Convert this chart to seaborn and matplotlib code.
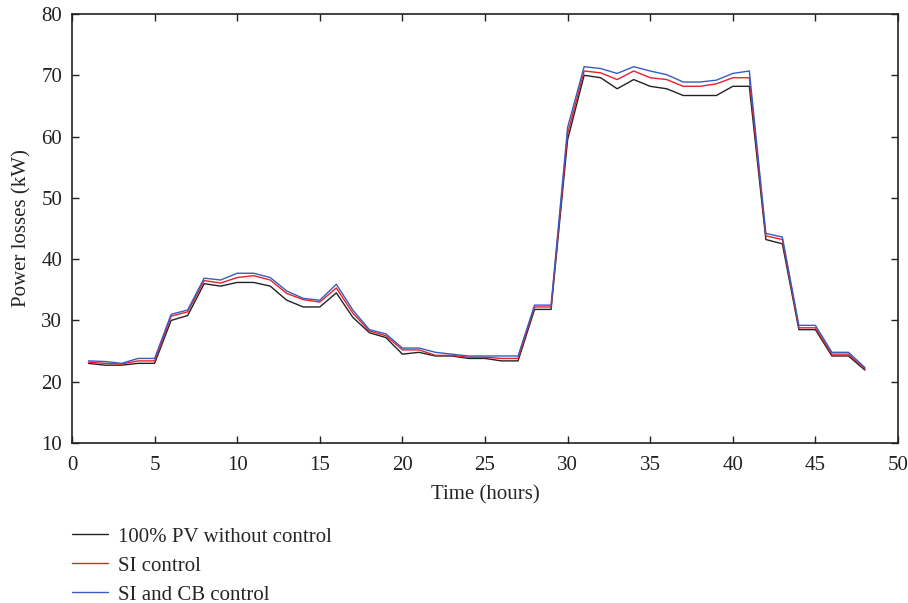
import numpy as np
import pandas as pd
import matplotlib
matplotlib.use("Agg")
import matplotlib.pyplot as plt
import seaborn as sns

# hourly values
hours = list(range(1, 49))
no_control = [23.0, 22.7, 22.7, 23.0, 23.0, 30.0, 30.8, 36.0, 35.6, 36.2, 36.2, 35.6,
              33.3, 32.2, 32.2, 34.5, 30.5, 28.0, 27.2, 24.5, 24.8, 24.2, 24.2, 23.8,
              23.8, 23.4, 23.4, 31.8, 31.8, 59.5, 70.0, 69.6, 67.8, 69.3, 68.2, 67.8,
              66.7, 66.7, 66.7, 68.2, 68.2, 43.2, 42.5, 28.5, 28.5, 24.2, 24.2, 21.9]
si_control = [23.2, 23.0, 22.9, 23.4, 23.4, 30.7, 31.4, 36.5, 36.1, 37.0, 37.3, 36.6,
              34.4, 33.4, 33.0, 35.3, 31.2, 28.3, 27.5, 25.2, 25.2, 24.3, 24.3, 24.0,
              24.0, 23.8, 23.8, 32.2, 32.2, 60.5, 70.7, 70.4, 69.3, 70.7, 69.6, 69.3,
              68.2, 68.2, 68.6, 69.6, 69.6, 43.8, 43.2, 28.8, 28.8, 24.5, 24.5, 22.1]
si_cb_control = [23.4, 23.3, 23.0, 23.8, 23.8, 31.0, 31.7, 36.9, 36.6, 37.7, 37.7, 37.0,
                 34.8, 33.6, 33.3, 35.9, 31.7, 28.5, 27.8, 25.5, 25.5, 24.8, 24.5, 24.2,
                 24.2, 24.2, 24.2, 32.5, 32.5, 61.5, 71.4, 71.1, 70.3, 71.4, 70.7, 70.1,
                 68.9, 68.9, 69.2, 70.3, 70.7, 44.2, 43.6, 29.2, 29.2, 24.8, 24.8, 22.3]
labels = ["100% PV without control", "SI control", "SI and CB control"]
colors = ["#222222", "#e8202a", "#3a5bbf"]

df = pd.DataFrame({
    "hour": hours * 3,
    "loss": no_control + si_control + si_cb_control,
    "case": [labels[0]] * 48 + [labels[1]] * 48 + [labels[2]] * 48,
})

sns.set_style("ticks")
plt.rcParams["font.family"] = ["Liberation Serif", "DejaVu Serif"]

fs = 15
fig = plt.figure(figsize=(9.08, 6.03), dpi=100)
ax = fig.add_axes([0.0793, 0.2653, 0.9097, 0.7115])

sns.lineplot(data=df, x="hour", y="loss", hue="case", palette=colors,
             linewidth=1.0, ax=ax, legend=False)

ax.set_xlim(0, 50)
ax.set_ylim(10, 80)
ax.set_xticks(range(0, 51, 5))
ax.set_yticks(range(10, 81, 10))
ax.set_xlabel("Time (hours)", fontsize=fs, labelpad=8)
ax.set_ylabel("Power losses (kW)", fontsize=fs, labelpad=7)
ax.tick_params(direction="in", length=5, width=1, labelsize=fs,
               top=True, right=True, colors="#222222")
ax.tick_params(axis="x", pad=9)
ax.tick_params(axis="y", pad=7)
for sp in ax.spines.values():
    sp.set_linewidth(1.2)
    sp.set_color("#222222")

handles = [plt.Line2D([], [], color=c, linewidth=1.0) for c in colors]
fig.legend(handles, labels, loc="upper left", bbox_to_anchor=(0.0636, 0.150),
           frameon=False, fontsize=fs, handlelength=1.7, handletextpad=0.5,
           labelspacing=0.45, borderpad=0.2)

fig.savefig("out.png", dpi=100)
